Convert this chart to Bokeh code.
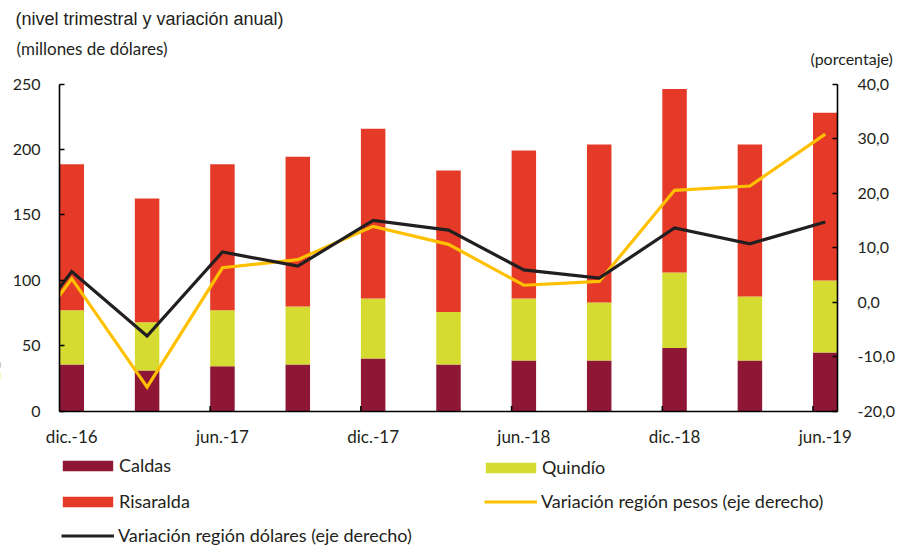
from bokeh.plotting import figure
from bokeh.models import (Range1d, LinearAxis, FixedTicker, CustomJSTickFormatter,
                          Legend, LegendItem, Label, ColumnDataSource)
from bokeh.embed import file_html
from bokeh.resources import INLINE

# ---------------- data ----------------
bar_labels = ["dic.-16", "mar.-17", "jun.-17", "sep.-17", "dic.-17", "mar.-18",
              "jun.-18", "sep.-18", "dic.-18", "mar.-19", "jun.-19"]
caldas = [35.7, 31.1, 34.4, 35.7, 40.3, 35.7, 38.8, 38.8, 48.2, 38.8, 44.9]
quindio = [41.5, 36.9, 42.8, 44.3, 45.9, 40.0, 47.4, 44.3, 57.8, 48.9, 55.0]
risaralda = [111.4, 94.6, 111.4, 114.5, 129.7, 108.3, 112.9, 120.6, 140.2, 116.0, 128.2]

line_labels = ["sep.-16"] + bar_labels
var_pesos = [-14.5, 4.3, -15.6, 6.3, 7.8, 13.9, 10.6, 3.1, 3.8, 20.5, 21.3, 30.8]
var_dolares = [-12.5, 5.6, -6.2, 9.2, 6.6, 15.0, 13.2, 5.9, 4.4, 13.6, 10.7, 14.7]

tick_labels = ["dic.-16", "jun.-17", "dic.-17", "jun.-18", "dic.-18", "jun.-19"]
left_ticks = [0, 50, 100, 150, 200, 250]
right_ticks = [-20, -10, 0, 10, 20, 30, 40]

# ---------------- styles / layout ----------------
C_CALDAS = "#8E1735"
C_QUINDIO = "#D5DB30"
C_RISARALDA = "#E53A28"
C_PESOS = "#FFC000"
C_DOLARES = "#231F20"
TXT = "#231F20"
FONT = "Lato"
BW = 0.325

W, H = 901, 546
PL, PR, PT, PB = 59.0, 837.0, 83.5, 410.7   # plot-area box in canvas pixels

x_bar = list(range(len(bar_labels)))
x_line = [i - 1 for i in range(len(line_labels))]
tick_pos = [bar_labels.index(t) for t in tick_labels]

xa_, xb_ = -BW / 2, len(bar_labels) - 1 + BW / 2
sx = (PR - PL) / (xb_ - xa_)
x_range = Range1d(xa_ - PL / sx, xb_ + (W - PR) / sx)

ly0, ly1 = left_ticks[0], left_ticks[-1]
sy = (PB - PT) / (ly1 - ly0)
y_range = Range1d(ly0 - (H - PB) / sy, ly1 + PT / sy)

ry0, ry1 = right_ticks[0], right_ticks[-1]
sr = (PB - PT) / (ry1 - ry0)
r_range = Range1d(ry0 - (H - PB) / sr, ry1 + PT / sr)

p = figure(width=W, height=H, output_backend="svg", toolbar_location=None,
           x_range=x_range, y_range=y_range, x_axis_location=None, y_axis_location=None,
           min_border=0, min_border_left=0, min_border_right=0, min_border_top=0,
           min_border_bottom=0, outline_line_color=None)
p.grid.visible = False
p.extra_y_ranges = {"pct": r_range}

def style_axis(ax, standoff, size="16px"):
    ax.axis_line_width = 1.6
    ax.axis_line_color = "black"
    ax.major_tick_line_width = 1.6
    ax.major_tick_line_color = "black"
    ax.minor_tick_line_color = None
    ax.major_tick_out = 0
    ax.major_label_standoff = standoff
    ax.major_label_text_font = FONT
    ax.major_label_text_font_size = size
    ax.major_label_text_color = TXT

# bars
src = ColumnDataSource(dict(x=x_bar, caldas=caldas, quindio=quindio, risaralda=risaralda))
bars = p.vbar_stack(["caldas", "quindio", "risaralda"], x="x", width=BW, source=src,
                    fill_color=[C_CALDAS, C_QUINDIO, C_RISARALDA], line_color=None)

# lines
l_pes = p.line(x_line, var_pesos, y_range_name="pct", line_color=C_PESOS,
               line_width=3.2, line_join="miter")
l_dol = p.line(x_line, var_dolares, y_range_name="pct", line_color=C_DOLARES,
               line_width=3.2, line_join="miter")

# white mask: clip the lines at the left edge of the plot area
p.quad(left=[x_range.start - 5], right=[xa_], bottom=[ly0 - 60], top=[ly1],
       fill_color="white", line_color=None)

# category tick marks at bar left edges
tx = [t - BW / 2 for t in tick_pos if t > 0]
p.segment(x0=tx, y0=[0] * len(tx), x1=tx, y1=[4] * len(tx), line_color="black", line_width=1.6)

# left axis
la = LinearAxis(fixed_location=xa_, bounds=(ly0, ly1), ticker=FixedTicker(ticks=left_ticks))
style_axis(la, 19)
la.major_tick_in = 5
p.add_layout(la, "left")

# right axis
ra = LinearAxis(y_range_name="pct", fixed_location=xb_, bounds=(ry0, ry1),
                ticker=FixedTicker(ticks=right_ticks),
                formatter=CustomJSTickFormatter(code="return tick.toFixed(1).replace('.', ',')"))
style_axis(ra, 20)
ra.major_tick_in = 5
p.add_layout(ra, "right")

# bottom axis
ba = LinearAxis(fixed_location=ly0, bounds=(xa_, xb_), ticker=FixedTicker(ticks=tick_pos),
                major_label_overrides={t: l for t, l in zip(tick_pos, tick_labels)})
style_axis(ba, 15, "17px")
ba.major_tick_in = 0
p.add_layout(ba, "below")

# legends
def make_legend(items, vx, vy, gw, gh, standoff):
    lg = Legend(items=[LegendItem(label=l, renderers=[r]) for l, r in items],
                location=(vx, vy), orientation="vertical", glyph_width=gw, glyph_height=gh,
                label_standoff=standoff, label_height=20, spacing=14, padding=0, margin=0,
                border_line_color=None, background_fill_alpha=0,
                label_text_font=FONT, label_text_font_size="18px", label_text_color=TXT)
    p.add_layout(lg, "center")

make_legend([("Caldas", bars[0]), ("Risaralda", bars[2])], 56, 34, 63, 13, 0)
make_legend([("Variación región dólares (eje derecho)", l_dol)], 61, 0, 53, 13, 4)
make_legend([("Quindío", bars[1])], 479, 68, 63, 13, 0)
make_legend([("Variación región pesos (eje derecho)", l_pes)], 484, 34, 53, 13, 4)

# texts
p.add_layout(Label(x=15, y=H - 18, x_units="screen", y_units="screen",
                   text="(nivel trimestral y variación anual)", text_baseline="middle",
                   text_font="Liberation Sans Narrow, Liberation Sans",
                   text_font_size="18px", text_color=TXT))
p.add_layout(Label(x=16, y=H - 48, x_units="screen", y_units="screen",
                   text="(millones de dólares)", text_baseline="middle",
                   text_font=FONT, text_font_size="17px", text_color=TXT))
p.add_layout(Label(x=810, y=H - 58, x_units="screen", y_units="screen",
                   text="(porcentaje)", text_baseline="middle",
                   text_font=FONT, text_font_size="16px", text_color=TXT))

open("out.html", "w").write(file_html(p, INLINE))
